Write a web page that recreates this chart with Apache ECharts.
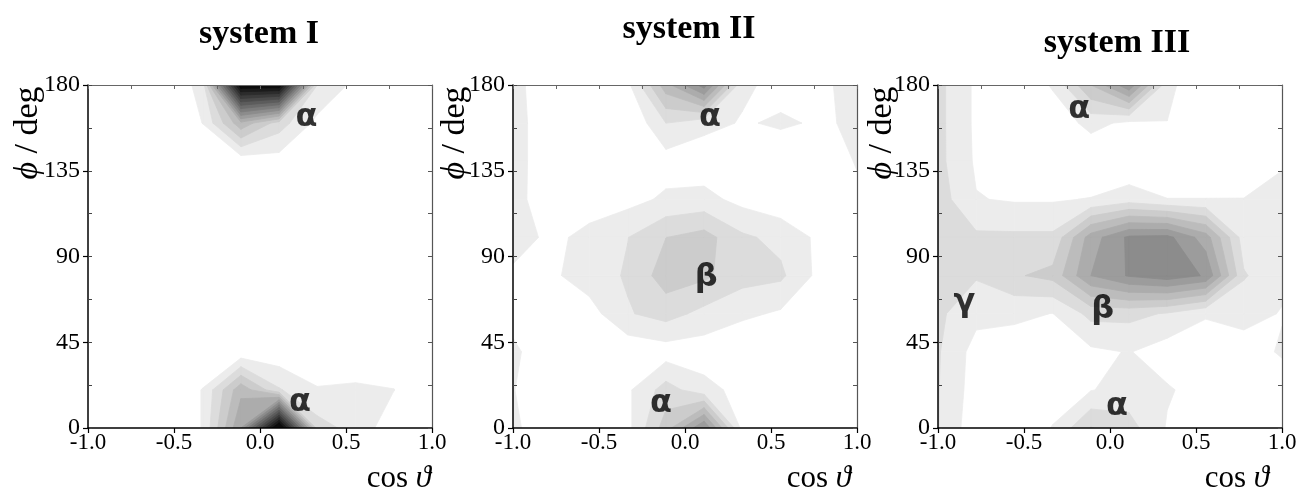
<!DOCTYPE html>
<html>
<head>
<meta charset="utf-8">
<script src="https://cdn.jsdelivr.net/npm/echarts@6/dist/echarts.min.js"></script>
<style>
  html, body { margin: 0; background: #fff; }
  #chart { width: 1301px; height: 495px; }
</style>
</head>
<body>
<div id="chart"></div>
<script>
// grid nodes of the histogram
const cosTheta = [-1, -0.778, -0.556, -0.333, -0.111, 0.111, 0.333, 0.556, 0.778, 1];
const phiDeg = [0, 20, 40, 60, 80, 100, 120, 140, 160, 180];

// rows go phi 0 -> 180, columns go cos theta -1 -> 1 (values in contour-level units)
const densityI = [
  [0, 0, 0, 1.05, 6, 17, 2.45, 1.6, 0.4, 0],
  [0, 0, 0, 1.05, 4.7, 2.1, 1.05, 1.1, 1.02, 0],
  [0, 0, 0, 0, 0.27, 0.3, 0.5, 0.57, 0.3, 0],
  [0, 0, 0, 0, 0, 0, 0, 0, 0, 0],
  [0, 0, 0, 0, 0, 0, 0, 0, 0, 0],
  [0, 0, 0, 0, 0, 0, 0, 0, 0, 0],
  [0, 0, 0, 0, 0, 0, 0, 0, 0, 0],
  [0, 0, 0, 0, 0.35, 0.55, 0, 0, 0, 0],
  [0, 0, 0, 1.02, 4.7, 2.5, 0.7, 0, 0, 0],
  [0, 0, 0, 1.4, 16, 16, 2.0, 0.7, 0, 0]
];
const densityII = [
  [1.2, 0.3, 0, 0.7, 3.5, 7, 0.63, 0, 0, 0],
  [1.05, 0.1, 0, 0.826, 2.44, 1.35, 0.66, 0, 0, 0],
  [1.2, 0.3, 0.2, 0.285, 0.495, 0.45, 0, 0, 0, 0],
  [0.63, 0.3, 0.58, 1.91, 2.4, 1.7, 1.23, 0.85, 0.3, 0],
  [0.74, 0.81, 1.515, 2.11, 3.52, 3.2, 2.38, 2.2, 0.73, 0],
  [1.6, 0.7, 1.36, 1.98, 2.99, 3.41, 2.18, 1.71, 0.79, 0],
  [1.4, 0.3, 0.39, 0.656, 1.17, 1.32, 0.68, 0.29, 0.3, 0.7],
  [1.4, 0.35, 0, 0, 0.55, 0.4, 0.3, 0.5, 0.1, 1.1],
  [1.4, 0.35, 0, 0, 2.0, 1.29, 0.93, 1.1, 0.92, 1.09],
  [1.3, 0.37, 0, 0.72, 4.6, 7.5, 1.16, 0.74, 0.6, 1.65]
];
const densityIII = [
  [2.05, 0.3, 0.2, 1.05, 3.05, 2.4, 0.91, 0.3, 0.2, 0.2],
  [2.05, 0.5, 0.3, 0.5, 0.95, 1.4, 1.1, 0.61, 0.3, 0.5],
  [2.1, 0.6, 0.5, 0.3, 0.8, 1.05, 0.5, 0.4, 0.6, 1.1],
  [2.2, 1.3, 1.2, 0.98, 2.3, 2.3, 1.9, 1.1, 1.3, 0.95],
  [2.5, 2.1, 2.88, 3.3, 6.0, 7.1, 7.6, 6.9, 2.1, 1.2],
  [2.6, 2.2, 2.2, 2.2, 5.5, 7.2, 7.3, 5.5, 1.5, 1.3],
  [2.5, 1.05, 0.9, 0.9, 1.05, 1.5, 1.02, 1.02, 1.02, 1.3],
  [2.3, 0.85, 0.3, 0.1, 0.107, 0.2, 0.3, 0.3, 0.4, 0.9],
  [2.3, 0.8, 0, 0.32, 1.33, 0.75, 0.98, 0.1, 0, 0],
  [2.3, 0.8, 0, 1.12, 4, 6.8, 1.3, 0.09, 0, 0]
];

// fill of the band above level k (k = 1..15)
const levelColors = ['#ececec', '#dcdcdc', '#cccccc', '#bcbcbc', '#acacac', '#9c9c9c', '#8c8c8c',
  '#7c7c7c', '#6c6c6c', '#5c5c5c', '#4c4c4c', '#3c3c3c', '#2c2c2c', '#1c1c1c', '#0c0c0c'];

const titles = ['system I', 'system II', 'system III'];

// peak names and where they sit (cos theta, phi)
const peaksI = [['α', 0.27, 163], ['α', 0.233, 13.5]];
const peaksII = [['α', 0.146, 163], ['β', 0.123, 79], ['α', -0.139, 12.5]];
const peaksIII = [['α', -0.179, 167], ['β', -0.042, 62], ['γ', -0.847, 65.5], ['α', 0.04, 11]];

const panels = [
  { density: densityI, peaks: peaksI, left: 88, titleX: 259, titleY: 17, nameX: 431, yNameX: 28 },
  { density: densityII, peaks: peaksII, left: 513, titleX: 689, titleY: 12, nameX: 851, yNameX: 455 },
  { density: densityIII, peaks: peaksIII, left: 938, titleX: 1117, titleY: 26, nameX: 1269, yNameX: 882 }
];

const serif = '"Liberation Serif", "Times New Roman", serif';

// part of one grid cell where the value is >= level (linear along edges)
function cellPolys(v, pts, level) {
  const inside = v.map(a => a >= level);
  const n = inside.filter(Boolean).length;
  if (n === 0) return [];
  const cross = (a, b) => {
    const t = (level - v[a]) / (v[b] - v[a]);
    return [pts[a][0] + t * (pts[b][0] - pts[a][0]), pts[a][1] + t * (pts[b][1] - pts[a][1])];
  };
  if (n === 2 && inside[0] === inside[2]) {
    const centre = (v[0] + v[1] + v[2] + v[3]) / 4;
    if (centre < level) {
      const out = [];
      for (let c = 0; c < 4; c++) {
        if (inside[c]) out.push([cross((c + 3) % 4, c), pts[c], cross(c, (c + 1) % 4)]);
      }
      return out;
    }
  }
  const poly = [];
  for (let c = 0; c < 4; c++) {
    const d = (c + 1) % 4;
    if (inside[c]) poly.push(pts[c]);
    if (inside[c] !== inside[d]) poly.push(cross(c, d));
  }
  return [poly];
}

function contourData(grid) {
  const items = [];
  for (let k = 1; k <= levelColors.length; k++) {
    for (let j = 0; j < phiDeg.length - 1; j++) {
      for (let i = 0; i < cosTheta.length - 1; i++) {
        const top = Math.max(grid[j][i], grid[j][i + 1], grid[j + 1][i], grid[j + 1][i + 1]);
        if (top >= k) items.push([(cosTheta[i] + cosTheta[i + 1]) / 2, (phiDeg[j] + phiDeg[j + 1]) / 2, k, i, j]);
      }
    }
  }
  return items;
}

function makeRender(grid) {
  return function (params, api) {
    const k = api.value(2), i = api.value(3), j = api.value(4);
    const v = [grid[j][i], grid[j][i + 1], grid[j + 1][i + 1], grid[j + 1][i]];
    const pts = [[cosTheta[i], phiDeg[j]], [cosTheta[i + 1], phiDeg[j]],
                 [cosTheta[i + 1], phiDeg[j + 1]], [cosTheta[i], phiDeg[j + 1]]];
    const color = levelColors[k - 1];
    return {
      type: 'group',
      children: cellPolys(v, pts, k).map(poly => ({
        type: 'polygon',
        shape: { points: poly.map(p => api.coord(p)) },
        style: { fill: color, stroke: color, lineWidth: 0.8 }
      }))
    };
  };
}

const grids = [], xAxes = [], yAxes = [], series = [], titleList = [], graphics = [];

panels.forEach((p, n) => {
  grids.push({ left: p.left, top: 85, width: 344, height: 343 });

  xAxes.push({
    gridIndex: n, type: 'value', min: -1, max: 1, interval: 0.5, position: 'bottom', z: 10,
    axisLine: { onZero: false, lineStyle: { color: '#000', width: 1.5 } },
    axisTick: { length: 5, lineStyle: { color: '#000', width: 1.2 } },
    axisLabel: { formatter: v => v.toFixed(1), fontFamily: serif, fontSize: 23, color: '#000', margin: 3 },
    splitLine: { show: false }
  });
  xAxes.push({
    gridIndex: n, type: 'value', min: -1, max: 1, interval: 0.25, position: 'top', z: 10,
    axisLine: { onZero: false, lineStyle: { color: '#666', width: 1.2 } },
    axisTick: { inside: true, length: 4, lineStyle: { color: '#666' } },
    axisLabel: { show: false }, splitLine: { show: false }
  });

  yAxes.push({
    gridIndex: n, type: 'value', min: 0, max: 180, interval: 45, position: 'left', z: 10,
    axisLine: { onZero: false, lineStyle: { color: '#000', width: 1.5 } },
    axisTick: { length: 5, lineStyle: { color: '#000', width: 1.2 } },
    axisLabel: { fontFamily: serif, fontSize: 24, color: '#000', margin: 8 },
    splitLine: { show: false }
  });
  yAxes.push({
    gridIndex: n, type: 'value', min: 0, max: 180, interval: 22.5, position: 'left', z: 10,
    axisLine: { show: false, onZero: false },
    axisTick: { inside: true, length: 4, lineStyle: { color: '#444' } },
    axisLabel: { show: false }, splitLine: { show: false }
  });
  yAxes.push({
    gridIndex: n, type: 'value', min: 0, max: 180, interval: 22.5, position: 'right', z: 10,
    axisLine: { onZero: false, lineStyle: { color: '#555', width: 1.2 } },
    axisTick: { inside: true, length: 4, lineStyle: { color: '#555' } },
    axisLabel: { show: false }, splitLine: { show: false }
  });

  series.push({
    type: 'custom',
    xAxisIndex: 2 * n, yAxisIndex: 3 * n,
    coordinateSystem: 'cartesian2d',
    clip: true, silent: true,
    renderItem: makeRender(p.density),
    data: contourData(p.density)
  });

  series.push({
    type: 'scatter',
    xAxisIndex: 2 * n, yAxisIndex: 3 * n,
    symbolSize: 1, silent: true, z: 5,
    itemStyle: { color: 'rgba(0,0,0,0)' },
    label: {
      show: true, position: 'inside', formatter: '{b}',
      fontFamily: '"DejaVu Sans", sans-serif', fontWeight: 'bold', fontSize: 32, color: '#000'
    },
    data: p.peaks.map(d => ({ name: d[0], value: [d[1], d[2]] }))
  });

  titleList.push({
    text: titles[n], left: p.titleX, top: p.titleY, textAlign: 'center', padding: 0,
    textStyle: { fontFamily: serif, fontWeight: 'bold', fontSize: 34, color: '#000' }
  });

  graphics.push({
    type: 'text', x: p.nameX, y: 479, z: 20,
    style: {
      text: '{a|cos }{b|ϑ}', textAlign: 'right', textVerticalAlign: 'middle',
      rich: {
        a: { fontFamily: serif, fontSize: 31, fill: '#000' },
        b: { fontFamily: serif, fontSize: 31, fontStyle: 'italic', fill: '#000' }
      }
    }
  });
  graphics.push({
    type: 'text', x: p.yNameX, y: 133, rotation: Math.PI / 2, z: 20,
    style: {
      text: '{a|ϕ}{b| / deg}', textAlign: 'center', textVerticalAlign: 'middle',
      rich: {
        a: { fontFamily: serif, fontSize: 34, fontStyle: 'italic', fill: '#000' },
        b: { fontFamily: serif, fontSize: 34, fill: '#000' }
      }
    }
  });
});

const chart = echarts.init(document.getElementById('chart'));
chart.setOption({
  animation: false,
  backgroundColor: '#fff',
  title: titleList,
  grid: grids,
  xAxis: xAxes,
  yAxis: yAxes,
  series: series,
  graphic: graphics
});
</script>
</body>
</html>
